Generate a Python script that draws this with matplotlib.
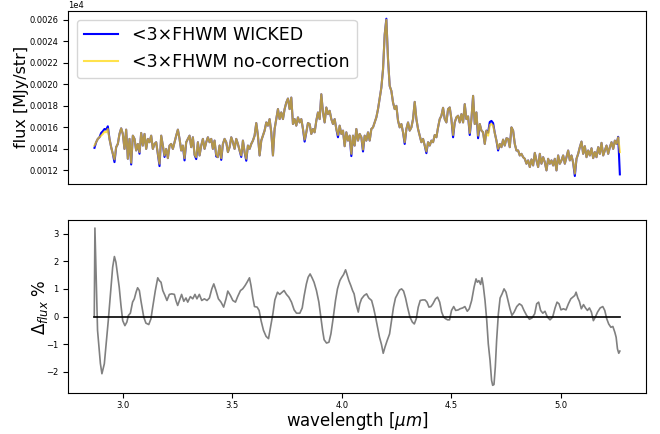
import numpy as np
import matplotlib
matplotlib.use("Agg")
import matplotlib.pyplot as plt
from matplotlib.ticker import MultipleLocator, FuncFormatter

# Espectro superior (MJy/sr), muestreo regular entre wave_start y wave_end
wave_start = 2.87
wave_end = 5.27

flux_nocorr = [
    14.31, 14.62, 14.93, 15.08, 15.23, 15.39, 15.60, 15.54, 15.85, 14.93,
    14.16, 13.54, 13.02, 14.16, 14.46, 15.39, 15.91, 15.39, 14.00, 15.79,
    13.08, 14.93, 12.71, 15.23, 14.93, 13.85, 14.46, 13.70, 15.48, 14.31,
    15.39, 14.00, 14.93, 14.62, 15.23, 14.00, 14.46, 14.62, 13.54, 12.62,
    15.23, 14.31, 13.39, 14.00, 13.14, 14.31, 14.46, 14.00, 14.62, 15.23,
    15.79, 14.93, 13.85, 14.31, 13.14, 14.62, 14.93, 15.23, 14.16, 15.08,
    13.45, 13.23, 14.62, 13.39, 14.31, 14.93, 14.00, 14.62, 15.08, 14.62,
    14.93, 14.00, 14.77, 13.45, 13.23, 14.31, 13.14, 14.46, 14.93, 14.62,
    13.70, 14.16, 15.08, 14.62, 14.00, 14.93, 14.46, 13.85, 13.39, 14.77,
    13.70, 13.08, 14.31, 14.00, 14.46, 14.77, 15.23, 16.40, 15.23, 13.39,
    14.77, 15.23, 15.70, 16.46, 16.16, 16.77,
    15.54, 13.39, 15.85, 16.77, 17.70, 16.77, 17.39, 16.77, 17.70, 18.31,
    18.68, 17.70, 18.77, 16.31, 16.77, 16.16, 16.93, 16.46, 16.77, 15.85,
    14.86, 15.54, 16.40, 16.31, 15.39, 15.85, 15.54, 16.62, 17.39, 16.77,
    19.08, 17.39, 16.46, 17.85, 17.23, 17.54, 16.77, 16.31, 16.77, 15.85,
    15.29, 16.16, 15.39, 15.70, 14.25, 15.54, 14.77, 15.23, 13.54, 15.23,
    14.31, 15.85, 14.77, 15.39, 15.08, 13.94, 15.23, 14.77, 15.54, 14.77,
    15.85, 16.00, 16.46, 16.93, 17.70, 18.68, 19.70, 21.39, 24.62, 26.00,
    22.31, 19.85, 19.39, 18.31, 17.70, 18.00, 16.62, 16.00, 16.31, 15.54,
    14.62, 15.85, 16.46, 15.70, 16.00, 16.77, 18.37, 16.77, 15.85, 15.23,
    14.62, 14.93, 14.31, 13.76, 14.62, 14.31, 14.77, 14.62, 15.29, 15.08,
    16.00, 16.77, 17.08, 17.82, 16.77, 16.46, 17.70, 17.85, 16.77, 15.29,
    16.46, 16.93, 17.08, 16.46,
    17.23, 16.46, 18.16, 16.77, 17.02, 15.48, 16.77, 18.93, 16.31, 17.39,
    15.23, 16.31, 15.70, 15.54, 14.46, 15.70, 15.23, 16.22, 16.31, 16.16,
    15.48, 14.77, 14.00, 14.46, 14.16, 14.86, 14.31, 14.99, 14.93, 14.16,
    16.00, 15.70, 14.46, 13.85, 13.85, 13.39, 13.54, 13.23, 13.08, 12.62,
    12.93, 12.31, 13.02, 12.46, 13.63, 12.93, 12.31, 13.54, 12.62, 13.23,
    12.77, 12.00, 13.08, 12.62, 12.93, 12.46, 13.08, 12.00, 13.39, 12.62,
    12.93, 13.39, 12.62, 13.23, 13.85, 12.93, 13.39, 12.71, 11.70, 13.08,
    13.54, 14.16, 14.68, 13.54, 14.25, 13.23, 13.85, 13.39, 14.06, 13.14,
    13.70, 13.23, 14.16, 13.54, 14.56, 13.39, 13.85, 14.31, 13.54, 14.16,
    14.62, 14.00, 14.77, 14.46, 15.08, 13.70,
]

flux_wicked = [
    14.10, 14.62, 14.93, 15.08, 15.48, 15.64, 15.85, 15.79, 16.10, 14.93,
    14.16, 13.54, 12.77, 14.16, 14.46, 15.39, 15.91, 15.39, 14.00, 15.79,
    13.08, 14.93, 12.55, 15.23, 14.93, 13.85, 14.46, 13.55, 15.48, 14.31,
    15.39, 14.00, 14.93, 14.62, 15.23, 14.00, 14.46, 14.62, 13.54, 12.40,
    15.23, 14.31, 13.25, 14.00, 13.14, 14.31, 14.46, 14.00, 14.62, 15.23,
    15.79, 14.93, 13.85, 14.31, 12.93, 14.62, 14.93, 15.23, 14.16, 15.08,
    13.45, 13.05, 14.62, 13.39, 14.31, 14.93, 14.00, 14.62, 15.08, 14.62,
    14.93, 14.00, 14.77, 13.30, 13.23, 14.31, 12.98, 14.46, 14.93, 14.62,
    13.70, 14.16, 15.08, 14.62, 14.00, 14.93, 14.46, 13.85, 13.25, 14.77,
    13.70, 12.90, 14.31, 14.00, 14.46, 14.77, 15.23, 16.40, 15.23, 13.39,
    14.77, 15.23, 15.70, 16.46, 16.16, 16.77,
    15.54, 13.39, 15.85, 16.77, 17.70, 16.77, 17.39, 16.77, 17.70, 18.31,
    18.68, 17.70, 18.77, 16.31, 16.77, 16.16, 16.93, 16.46, 16.77, 15.85,
    14.68, 15.54, 16.40, 16.31, 15.39, 15.85, 15.54, 16.62, 17.39, 16.77,
    19.08, 17.39, 16.46, 17.85, 17.23, 17.54, 16.77, 16.31, 16.77, 15.85,
    15.08, 16.16, 15.39, 15.70, 14.25, 15.54, 14.77, 15.23, 13.33, 15.23,
    14.31, 15.85, 14.77, 15.39, 15.08, 13.76, 15.23, 14.77, 15.54, 14.77,
    15.85, 16.00, 16.46, 16.93, 17.70, 18.68, 19.70, 21.39, 24.62, 26.10,
    22.31, 19.85, 19.39, 18.31, 17.70, 18.00, 16.62, 16.00, 16.31, 15.54,
    14.46, 15.85, 16.46, 15.70, 16.00, 16.77, 18.37, 16.77, 15.85, 15.23,
    14.62, 14.93, 14.31, 13.60, 14.62, 14.31, 14.77, 14.62, 15.29, 15.08,
    16.00, 16.77, 17.08, 17.82, 16.77, 16.46, 17.70, 17.85, 16.77, 15.08,
    16.46, 16.93, 17.08, 16.46,
    17.23, 16.46, 18.16, 16.77, 17.02, 15.29, 16.77, 18.93, 16.31, 17.39,
    14.99, 16.31, 15.70, 15.54, 14.46, 15.70, 15.50, 16.50, 16.60, 16.40,
    15.48, 14.77, 13.85, 14.46, 14.16, 14.86, 14.31, 14.99, 14.93, 14.16,
    16.00, 15.70, 14.46, 13.85, 13.85, 13.39, 13.54, 13.23, 13.08, 12.62,
    12.93, 12.31, 13.02, 12.46, 13.63, 12.93, 12.31, 13.54, 12.62, 13.23,
    12.77, 12.00, 13.08, 12.62, 12.93, 12.46, 13.08, 12.00, 13.39, 12.62,
    12.93, 13.39, 12.62, 13.23, 13.85, 12.93, 13.39, 12.71, 11.48, 13.08,
    13.54, 14.16, 14.68, 13.54, 14.25, 13.23, 13.85, 13.39, 14.06, 13.14,
    13.70, 13.23, 14.16, 13.54, 14.56, 13.39, 13.85, 14.31, 13.54, 14.16,
    14.62, 14.00, 14.77, 14.46, 15.12, 11.63,
]

# Diferencia relativa (%) del panel inferior
delta_wave = [
    2.869, 2.872, 2.877, 2.884, 2.897, 2.904, 2.915, 2.922, 2.933, 2.942,
    2.953, 2.961, 2.968, 2.973, 2.983, 2.991, 2.999, 3.009, 3.018, 3.025,
    3.034, 3.044, 3.052, 3.060, 3.067, 3.075, 3.082, 3.095, 3.105, 3.118,
    3.128, 3.136, 3.148, 3.159, 3.166, 3.174, 3.182, 3.192, 3.201, 3.212,
    3.223, 3.235, 3.242, 3.250, 3.258, 3.268, 3.278, 3.288, 3.296, 3.308,
    3.319, 3.329, 3.338, 3.349, 3.360, 3.372, 3.384, 3.395, 3.406, 3.415,
    3.425, 3.436, 3.448, 3.460, 3.471, 3.479, 3.491, 3.502, 3.514, 3.524,
    3.537, 3.547, 3.558, 3.567, 3.578, 3.585, 3.593, 3.601, 3.613, 3.622,
    3.631, 3.642, 3.654, 3.665, 3.674, 3.685,
    3.694, 3.706, 3.716, 3.727, 3.736, 3.747, 3.758, 3.770, 3.782, 3.793,
    3.808, 3.819, 3.828, 3.838, 3.846, 3.855, 3.864, 3.873, 3.884, 3.895,
    3.904, 3.912, 3.919, 3.930, 3.941, 3.950, 3.960, 3.971, 3.980, 3.991,
    3.998, 4.008, 4.017, 4.023, 4.032, 4.041, 4.049, 4.056, 4.064, 4.075,
    4.082, 4.090, 4.102, 4.113, 4.123, 4.136, 4.145, 4.154, 4.163, 4.172,
    4.181, 4.189, 4.197, 4.207, 4.218, 4.227, 4.236, 4.245, 4.255, 4.264,
    4.273, 4.282, 4.291, 4.300, 4.311, 4.322, 4.331, 4.340, 4.349, 4.358,
    4.369, 4.380, 4.389, 4.398, 4.407, 4.416, 4.428, 4.437, 4.447, 4.456,
    4.465, 4.474, 4.483, 4.492, 4.501, 4.511, 4.520, 4.532,
    4.540, 4.552, 4.562, 4.573, 4.582, 4.593, 4.604, 4.613, 4.619, 4.626,
    4.634, 4.640, 4.646, 4.654, 4.662, 4.669, 4.677, 4.684, 4.689, 4.695,
    4.701, 4.707, 4.715, 4.723, 4.732, 4.741, 4.750, 4.759, 4.768, 4.777,
    4.787, 4.799, 4.811, 4.822, 4.832, 4.844, 4.857, 4.869, 4.881, 4.890,
    4.899, 4.908, 4.918, 4.928, 4.939, 4.951, 4.963, 4.974, 4.983, 4.992,
    5.001, 5.012, 5.024, 5.035, 5.046, 5.055, 5.064, 5.070, 5.078, 5.085,
    5.094, 5.104, 5.113, 5.122, 5.131, 5.140, 5.149, 5.158, 5.168, 5.180,
    5.192, 5.201, 5.210, 5.219, 5.229, 5.238, 5.247, 5.253, 5.259, 5.265,
    5.270,
]

delta_flux = [
    0.00, 3.20, 1.66, -0.50, -1.70, -2.07, -1.71, -1.10, -0.15, 0.70,
    1.78, 2.17, 1.96, 1.66, 1.06, 0.40, -0.15, -0.33, -0.20, 0.04,
    0.12, 0.52, 0.64, 0.88, 1.04, 0.94, 0.58, -0.02, -0.24, -0.29,
    -0.08, 0.34, 0.94, 1.40, 1.30, 1.24, 0.94, 0.76, 0.58, 0.80,
    0.82, 0.80, 0.58, 0.40, 0.58, 0.80, 0.55, 0.67, 0.52, 0.72,
    0.64, 0.80, 0.64, 0.80, 0.58, 0.64, 0.58, 0.67, 1.00, 1.18,
    0.94, 0.64, 0.52, 0.34, 0.64, 0.92, 0.76, 0.58, 0.52, 0.72,
    0.94, 1.00, 1.12, 1.24, 1.40, 1.12, 0.70, 0.36, 0.34, 0.22,
    -0.15, -0.50, -0.72, -0.80, -0.39, 0.10,
    0.60, 0.88, 0.80, 0.88, 0.94, 0.80, 0.70, 0.52, 0.24, 0.12,
    0.12, 0.31, 0.76, 1.18, 1.42, 1.54, 1.40, 1.24, 0.94, 0.52,
    -0.02, -0.50, -0.84, -0.96, -0.93, -0.63, -0.08, 0.58, 1.00, 1.30,
    1.40, 1.52, 1.69, 1.54, 1.30, 1.12, 0.94, 0.82, 0.48, 0.16,
    0.46, 0.64, 0.76, 0.82, 0.67, 0.58, 0.31, -0.02, -0.39, -0.75,
    -1.01, -1.33, -1.11, -0.87, -0.63, -0.15, 0.34, 0.67, 0.82, 0.96,
    1.00, 0.92, 0.67, 0.34, -0.02, -0.20, -0.27, -0.08, 0.34, 0.58,
    0.60, 0.60, 0.52, 0.34, 0.36, 0.46, 0.64, 0.70, 0.52, 0.16,
    -0.02, -0.08, -0.12, -0.12, 0.22, 0.36, 0.22, 0.24,
    0.28, 0.31, 0.36, 0.19, 0.28, 0.58, 1.06, 1.36, 1.24, 1.30,
    1.16, 1.40, 1.12, 0.58, -0.15, -0.99, -1.59, -2.31, -2.49, -2.46,
    -1.83, -0.87, 0.10, 0.67, 0.82, 1.00, 0.88, 0.58, 0.28, 0.04,
    0.16, 0.36, 0.46, 0.40, 0.22, 0.04, -0.10, -0.05, 0.10, 0.46,
    0.52, 0.22, 0.12, 0.19, -0.02, -0.12, -0.02, 0.31, 0.52, 0.46,
    0.24, 0.28, 0.24, 0.46, 0.64, 0.70, 0.76, 0.88, 0.67, 0.55,
    0.28, 0.43, 0.31, 0.22, 0.31, 0.16, -0.15, -0.02, 0.16, 0.31,
    0.36, 0.22, -0.08, -0.27, -0.39, -0.36, -0.57, -0.75, -1.17, -1.33,
    -1.25,
]

wave = np.linspace(wave_start, wave_end, len(flux_wicked))

fig, (ax1, ax2) = plt.subplots(2, 1, figsize=(6.6, 4.34), dpi=100, sharex=True)
fig.subplots_adjust(left=0.103, right=0.979, top=0.975, bottom=0.094, hspace=0.21)

# Panel superior: espectros
ax1.plot(wave, flux_wicked, color='blue', lw=1.5, label='<3×FHWM WICKED')
ax1.plot(wave, flux_nocorr, color='gold', lw=1.5, alpha=0.7, label='<3×FHWM no-correction')
ax1.set_ylabel('flux [MJy/str]', fontsize=11.5, labelpad=0)
ax1.yaxis.set_major_locator(MultipleLocator(2))
ax1.yaxis.set_major_formatter(FuncFormatter(lambda v, p: f'{v * 1e-4:.4f}'))
ax1.text(0, 1.006, '1e4', transform=ax1.transAxes, fontsize=6, va='bottom', ha='left')
ax1.tick_params(axis='x', bottom=False, labelbottom=False)
ax1.tick_params(axis='y', labelsize=6)
ax1.legend(loc='upper left', fontsize=12.5)

# Panel inferior: diferencia relativa
ax2.plot(delta_wave, delta_flux, color='grey', lw=1.2)
ax2.plot(delta_wave, np.zeros(len(delta_wave)), color='k', lw=1.2)
ax2.set_ylabel(r'$\Delta_{flux}$ %', fontsize=12, labelpad=-3)
ax2.set_xlabel(r'wavelength [$\mu m$]', fontsize=12, labelpad=0)
ax2.yaxis.set_major_locator(MultipleLocator(1))
ax2.tick_params(labelsize=6)
ax2.tick_params(axis='x', pad=2)

fig.savefig('out.png', dpi=100)
